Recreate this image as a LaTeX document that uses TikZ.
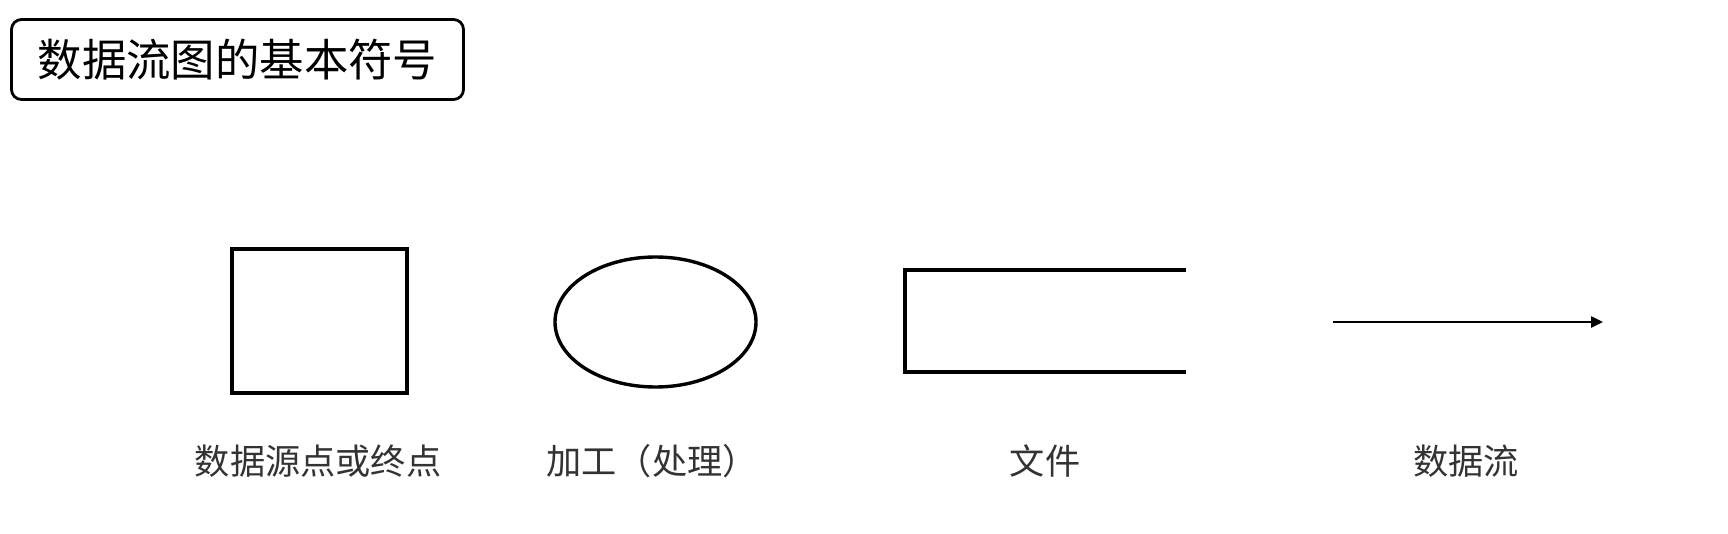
\documentclass[tikz,border=0pt]{standalone}
\usepackage{fontspec}
\setmainfont{Noto Sans CJK SC}
\usetikzlibrary{shapes.geometric,arrows.meta}
\begin{document}
\begin{tikzpicture}[x=0.5pt,y=-0.5pt,
  symb/.style={draw=black,line width=1.7pt,inner sep=0pt},
  lbl/.style={font=\fontsize{17.6}{20}\selectfont,text=black!80,inner sep=0pt,anchor=center},
  ttl/.style={draw=black,line width=1.4pt,rounded corners=5pt,font=\fontsize{22.2}{26}\selectfont,inner sep=0pt,minimum width=226pt,minimum height=40pt}]
\useasboundingbox (0,0) rectangle (1728,534);
\node[ttl] (title) at (237.5,59.5) {数据流图的基本符号};
\node[symb,rectangle,minimum width=87.5pt,minimum height=72pt] (src) at (319.5,321) {};
\node[symb,ellipse,minimum width=100.5pt,minimum height=65pt] (proc) at (655.5,322) {};
\coordinate (ftr) at (1186,270);
\coordinate (ftl) at (905,270);
\coordinate (fbl) at (905,372);
\coordinate (fbr) at (1186,372);
\draw[line width=1.7pt] (ftr) -- (ftl) -- (fbl) -- (fbr);
\coordinate (as) at (1333,322);
\coordinate (ae) at (1603,322);
\draw[line width=1.2pt,-{Triangle[length=6pt,width=5.5pt]}] (as) -- (ae);
\node[lbl] (l1) at (318,461) {数据源点或终点};
\node[lbl] (l2) at (652,461) {加工（处理）};
\node[lbl] (l3) at (1045,461) {文件};
\node[lbl] (l4) at (1466,461) {数据流};
\end{tikzpicture}
\end{document}
